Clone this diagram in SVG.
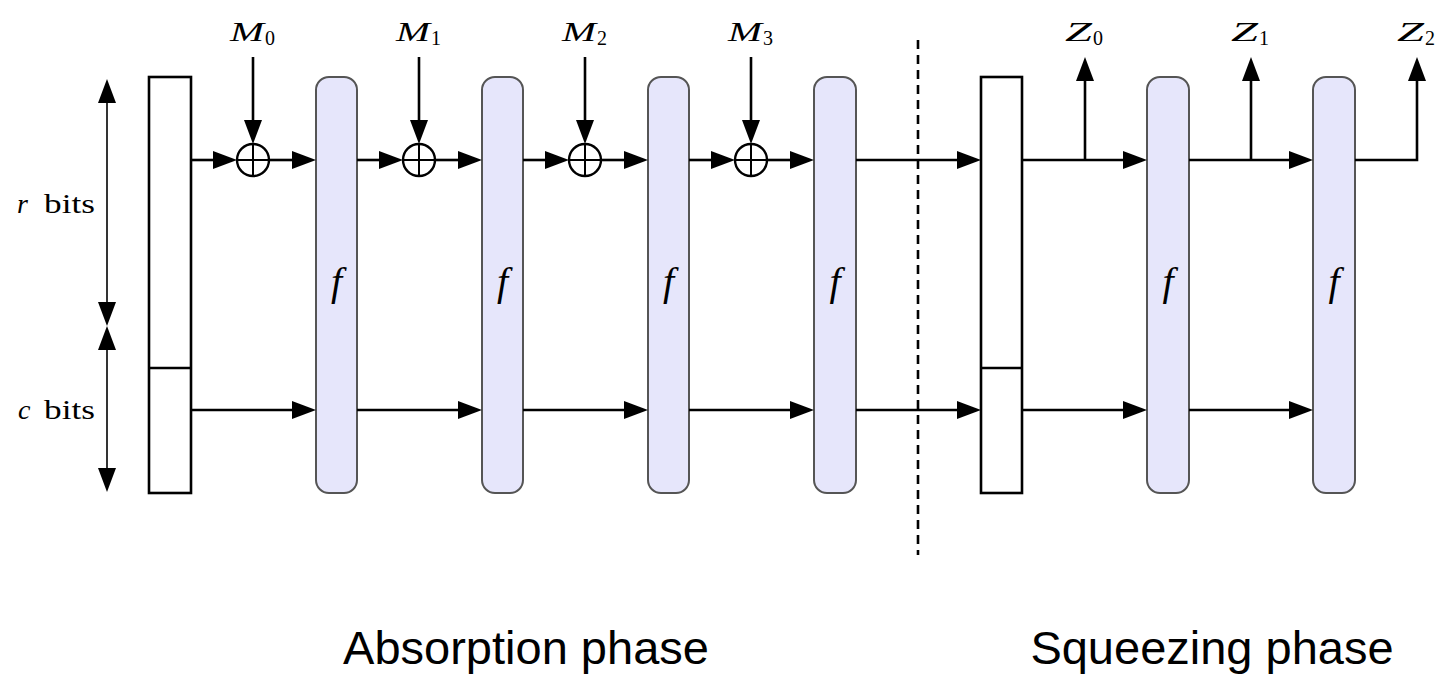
<svg xmlns="http://www.w3.org/2000/svg" width="1443" height="676" viewBox="0 0 1443 676">
<style>
.ln{fill:none;stroke:#000;stroke-width:2.6}
.dim{fill:none;stroke:#000;stroke-width:1.6}
.st{fill:#fff;stroke:#000;stroke-width:2.6}
.fb{fill:#e6e6fb;stroke:#555;stroke-width:2}
.xo{fill:#fff;stroke:#000;stroke-width:2.4}
.xp{stroke:#000;stroke-width:2}
.mt{font-family:"Liberation Serif","Times New Roman",serif;font-size:27px;font-style:italic;fill:#000}
.sb{font-family:"Liberation Serif","Times New Roman",serif;font-size:20px;fill:#000}
.fl{font-family:"Liberation Serif","Times New Roman",serif;font-size:40px;font-style:italic;fill:#000}
.bl{font-family:"Liberation Serif","Times New Roman",serif;font-size:28px;fill:#000}
.bi{font-style:italic}
.ph{font-family:"Liberation Sans",Arial,sans-serif;font-size:47px;fill:#000}
</style>
<defs>
<marker id="ah" markerUnits="userSpaceOnUse" markerWidth="24" markerHeight="18" refX="4" refY="9" orient="auto-start-reverse" overflow="visible">
<path d="M0,0 L24,9 L0,18 Z" fill="#000"/>
</marker>
</defs>

<g id="dimension">
<path class="dim" d="M107,99 V306" marker-start="url(#ah)" marker-end="url(#ah)"/>
<path class="dim" d="M107,346 V472" marker-start="url(#ah)" marker-end="url(#ah)"/>
<text class="bl bi" x="17" y="213">r</text>
<text class="bl" x="44" y="213" textLength="51" lengthAdjust="spacingAndGlyphs">bits</text>
<text class="bl bi" x="18" y="419">c</text>
<text class="bl" x="44" y="419" textLength="51" lengthAdjust="spacingAndGlyphs">bits</text>
</g>

<g id="state-in">
<rect class="st" x="149" y="77" width="42" height="416"/>
<line class="ln" x1="149" y1="368" x2="191" y2="368"/>
</g>
<g id="state-out">
<rect class="st" x="981" y="77" width="41" height="416"/>
<line class="ln" x1="981" y1="368" x2="1022" y2="368"/>
</g>

<g id="f1"><rect class="fb" x="316" y="77" width="41" height="416" rx="13"/><text class="fl" x="336.5" y="295" text-anchor="middle">f</text></g>
<g id="f2"><rect class="fb" x="482" y="77" width="41" height="416" rx="13"/><text class="fl" x="502.5" y="295" text-anchor="middle">f</text></g>
<g id="f3"><rect class="fb" x="648" y="77" width="41" height="416" rx="13"/><text class="fl" x="668.5" y="295" text-anchor="middle">f</text></g>
<g id="f4"><rect class="fb" x="814" y="77" width="42" height="416" rx="13"/><text class="fl" x="835" y="295" text-anchor="middle">f</text></g>
<g id="f5"><rect class="fb" x="1147" y="77" width="42" height="416" rx="13"/><text class="fl" x="1168" y="295" text-anchor="middle">f</text></g>
<g id="f6"><rect class="fb" x="1313" y="77" width="42" height="416" rx="13"/><text class="fl" x="1334" y="295" text-anchor="middle">f</text></g>

<g id="connectors">
<path class="ln" d="M191,160 H217" marker-end="url(#ah)"/>
<path class="ln" d="M269,160 H296" marker-end="url(#ah)"/>
<path class="ln" d="M357,160 H383" marker-end="url(#ah)"/>
<path class="ln" d="M435,160 H462" marker-end="url(#ah)"/>
<path class="ln" d="M523,160 H549" marker-end="url(#ah)"/>
<path class="ln" d="M601,160 H628" marker-end="url(#ah)"/>
<path class="ln" d="M689,160 H715" marker-end="url(#ah)"/>
<path class="ln" d="M767,160 H794" marker-end="url(#ah)"/>
<path class="ln" d="M856,160 H961" marker-end="url(#ah)"/>
<path class="ln" d="M1022,160 H1127" marker-end="url(#ah)"/>
<path class="ln" d="M1085,160 V77" marker-end="url(#ah)"/>
<path class="ln" d="M1189,160 H1293" marker-end="url(#ah)"/>
<path class="ln" d="M1251,160 V77" marker-end="url(#ah)"/>
<path class="ln" d="M1355,160 H1417 V77" marker-end="url(#ah)"/>
<path class="ln" d="M253,57 V124" marker-end="url(#ah)"/>
<path class="ln" d="M419,57 V124" marker-end="url(#ah)"/>
<path class="ln" d="M585,57 V124" marker-end="url(#ah)"/>
<path class="ln" d="M751,57 V124" marker-end="url(#ah)"/>
<path class="ln" d="M191,410 H296" marker-end="url(#ah)"/>
<path class="ln" d="M357,410 H462" marker-end="url(#ah)"/>
<path class="ln" d="M523,410 H628" marker-end="url(#ah)"/>
<path class="ln" d="M689,410 H794" marker-end="url(#ah)"/>
<path class="ln" d="M856,410 H961" marker-end="url(#ah)"/>
<path class="ln" d="M1022,410 H1127" marker-end="url(#ah)"/>
<path class="ln" d="M1189,410 H1293" marker-end="url(#ah)"/>
</g>

<g id="xor0"><circle class="xo" cx="253" cy="160" r="16"/><path class="xp" d="M237,160 H269 M253,144 V176"/></g>
<g id="xor1"><circle class="xo" cx="419" cy="160" r="16"/><path class="xp" d="M403,160 H435 M419,144 V176"/></g>
<g id="xor2"><circle class="xo" cx="585" cy="160" r="16"/><path class="xp" d="M569,160 H601 M585,144 V176"/></g>
<g id="xor3"><circle class="xo" cx="751" cy="160" r="16"/><path class="xp" d="M735,160 H767 M751,144 V176"/></g>

<g id="input-M0"><text class="mt" x="230" y="41" textLength="34" lengthAdjust="spacingAndGlyphs">M</text><text class="sb" x="265" y="45">0</text></g>
<g id="input-M1"><text class="mt" x="396" y="41" textLength="34" lengthAdjust="spacingAndGlyphs">M</text><text class="sb" x="431" y="45">1</text></g>
<g id="input-M2"><text class="mt" x="562" y="41" textLength="34" lengthAdjust="spacingAndGlyphs">M</text><text class="sb" x="597" y="45">2</text></g>
<g id="input-M3"><text class="mt" x="728" y="41" textLength="34" lengthAdjust="spacingAndGlyphs">M</text><text class="sb" x="763" y="45">3</text></g>

<g id="output-Z0"><text class="mt" x="1065" y="41" textLength="27" lengthAdjust="spacingAndGlyphs">Z</text><text class="sb" x="1093" y="45">0</text></g>
<g id="output-Z1"><text class="mt" x="1231" y="41" textLength="27" lengthAdjust="spacingAndGlyphs">Z</text><text class="sb" x="1259" y="45">1</text></g>
<g id="output-Z2"><text class="mt" x="1397" y="41" textLength="27" lengthAdjust="spacingAndGlyphs">Z</text><text class="sb" x="1425" y="45">2</text></g>

<g id="divider">
<path class="ln" d="M918,40 V555" stroke-dasharray="9 6"/>
</g>

<g id="phases">
<text class="ph" x="526" y="664" text-anchor="middle">Absorption phase</text>
<text class="ph" x="1212" y="664" text-anchor="middle">Squeezing phase</text>
</g>
</svg>
